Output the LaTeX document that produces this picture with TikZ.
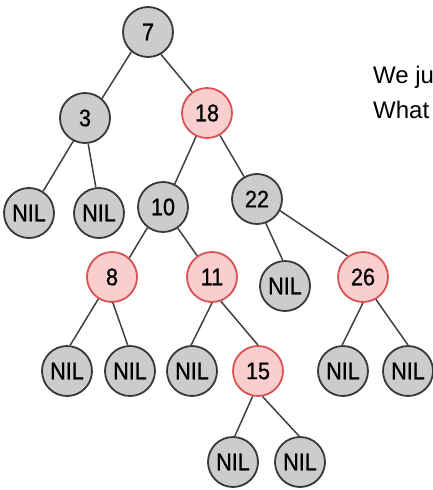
\documentclass[tikz,border=0pt]{standalone}
\usepackage{fontspec}
\setmainfont{Liberation Sans}
\newfontfamily\nodefont[FakeStretch=0.9,FakeBold=0.8]{Liberation Sans}
\definecolor{redline}{RGB}{218,82,82}
\definecolor{redfill}{RGB}{250,206,206}
\begin{document}
\begin{tikzpicture}[x=1pt,y=-1pt,
  every node/.style={font=\nodefont\fontsize{24}{26}\selectfont},
  blk/.style={circle,draw=black!78,line width=1.8pt,fill=black!20,minimum size=50pt,inner sep=0pt},
  red/.style={circle,draw=redline,line width=1.8pt,fill=redfill,minimum size=50pt,inner sep=0pt},
  edge/.style={draw=black!75,line width=1.5pt},
  note/.style={font=\normalfont\fontsize{24}{28}\selectfont,anchor=base west,inner sep=0pt}]
\useasboundingbox (0,0) rectangle (432,490);
% tree nodes
\node[blk] (n7)  at (148,32)  {7};
\node[blk] (n3)  at (85,118)  {3};
\node[red] (n18) at (207,113) {18};
\node[blk] (l1)  at (29,213)  {NIL};
\node[blk] (l2)  at (99,213)  {NIL};
\node[blk] (n10) at (163,207) {10};
\node[blk] (n22) at (257,199) {22};
\node[red] (n8)  at (112,277) {8};
\node[red] (n11) at (212,277) {11};
\node[blk] (l3)  at (285,286) {NIL};
\node[red] (n26) at (363,277) {26};
\node[blk] (l4)  at (67,371)  {NIL};
\node[blk] (l5)  at (130,371) {NIL};
\node[blk] (l6)  at (192,371) {NIL};
\node[red] (n15) at (258,371) {15};
\node[blk] (l7)  at (343,371) {NIL};
\node[blk] (l8)  at (408,371) {NIL};
\node[blk] (l9)  at (233,462) {NIL};
\node[blk] (l10) at (300,462) {NIL};
% connectors
\path[edge] (n7.230) -- (n3.49);
\path[edge] (n7.300) -- (n18.125);
\path[edge] (n3.243) -- (l1.57);
\path[edge] (n3.277) -- (l2.97);
\path[edge] (n18.245) -- (n10.63);
\path[edge] (n18.300) -- (n22.120);
\path[edge] (n10.233) -- (n8.48);
\path[edge] (n10.305) -- (n11.125);
\path[edge] (n22.290) -- (l3.95);
\path[edge] (n22.333) -- (n26.126);
\path[edge] (n8.238) -- (l4.83);
\path[edge] (n8.272) -- (l5.95);
\path[edge] (n11.270) -- (l6.92);
\path[edge] (n11.290) -- (n15.90);
\path[edge] (n26.270) -- (l7.92);
\path[edge] (n26.300) -- (l8.90);
\path[edge] (n15.258) -- (l9.86);
\path[edge] (n15.280) -- (l10.92);
% text on the right
\node[note] (t1) at (373,83) {We just};
\node[note] (t2) at (373,118) {What};
\end{tikzpicture}
\end{document}
